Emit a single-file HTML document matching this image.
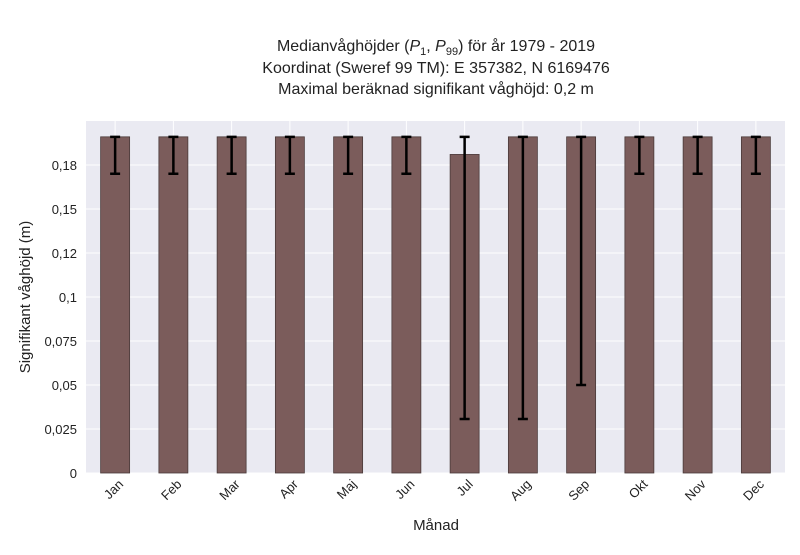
<!DOCTYPE html>
<html><head><meta charset="utf-8"><style>
body{margin:0;background:#fff;font-family:"Liberation Sans",sans-serif}
</style></head><body>
<svg id="c" width="800" height="550" xmlns="http://www.w3.org/2000/svg">
<text x="436" y="51" text-anchor="middle" font-size="16" fill="#222">Medianvåghöjder (<tspan font-style="italic">P</tspan><tspan font-size="11" dy="4">1</tspan><tspan dy="-4">, </tspan><tspan font-style="italic">P</tspan><tspan font-size="11" dy="4">99</tspan><tspan dy="-4">) för år 1979 - 2019</tspan></text>
<text x="436" y="73" text-anchor="middle" font-size="16" fill="#222">Koordinat (Sweref 99 TM): E 357382, N 6169476</text>
<text x="436" y="94" text-anchor="middle" font-size="16" fill="#222">Maximal beräknad signifikant våghöjd: 0,2 m</text>
<rect x="86" y="121" width="699" height="352" fill="#eaeaf2"/>
<g id="g"></g>
<text x="436" y="530" text-anchor="middle" font-size="15" fill="#222">Månad</text>
<text transform="translate(30,297) rotate(-90)" text-anchor="middle" font-size="15" fill="#222">Signifikant våghöjd (m)</text>
</svg>
<script>
const months=["Jan","Feb","Mar","Apr","Maj","Jun","Jul","Aug","Sep","Okt","Nov","Dec"];
const medians=[0.191,0.191,0.191,0.191,0.191,0.191,0.181,0.191,0.191,0.191,0.191,0.191];
const p1=[0.170,0.170,0.170,0.170,0.170,0.170,0.0307,0.0307,0.05,0.170,0.170,0.170];
const p99=[0.191,0.191,0.191,0.191,0.191,0.191,0.191,0.191,0.191,0.191,0.191,0.191];
const yTicks=[0,0.025,0.05,0.075,0.1,0.125,0.15,0.175];
const yTickLabels=["0","0,025","0,05","0,075","0,1","0,12","0,15","0,18"];
const NS="http://www.w3.org/2000/svg",g=document.getElementById("g");
const x0=86,x1=785,yb=473,yt=121,ymax=0.2;
const y=v=>yb-(v/ymax)*(yb-yt);
const step=(x1-x0)/months.length;
const xc=i=>x0+step*(i+0.5);
function mk(t,a){const e=document.createElementNS(NS,t);for(const k in a)e.setAttribute(k,a[k]);g.appendChild(e);return e;}
yTicks.forEach((v,i)=>{
 const l=mk("line",{x1:x0,x2:x1,y1:y(v),y2:y(v),stroke:"#fff","stroke-width":1});
 
 
 const t=mk("text",{x:77,y:y(v)+5,"text-anchor":"end","font-size":13,fill:"#222"});
 t.textContent=yTickLabels[i];
 
 
});
months.forEach((m,i)=>{
 const c=xc(i);
 const vl=mk("line",{x1:c,x2:c,y1:yt,y2:yb,stroke:"#fff","stroke-width":1});
 
 
});
months.forEach((m,i)=>{
 const c=xc(i),w=29;
 const b=mk("rect",{x:c-w/2,y:y(medians[i]),width:w,height:yb-y(medians[i]),fill:"#7b5c5b",stroke:"#4a3a3a","stroke-width":0.8});
 
 
 const e=mk("path",{d:`M${c},${y(p1[i])}V${y(p99[i])}M${c-5},${y(p1[i])}H${c+5}M${c-5},${y(p99[i])}H${c+5}`,stroke:"#000","stroke-width":2.5,fill:"none"});
 
 
 const t=mk("text",{transform:`translate(${c+9},${485}) rotate(-45)`,"text-anchor":"end","font-size":13,fill:"#222"});
 t.textContent=m;
 
 
});
</script>
</body></html>
